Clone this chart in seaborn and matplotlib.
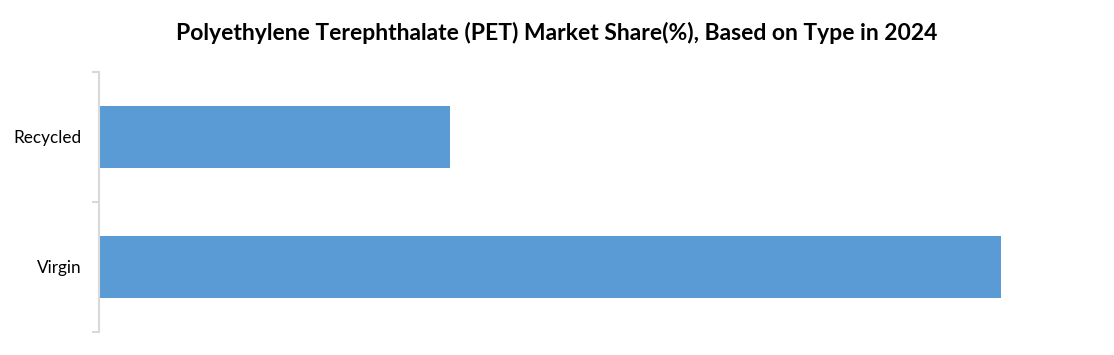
import matplotlib
matplotlib.use("Agg")
import matplotlib.pyplot as plt
import seaborn as sns
import pandas as pd
from matplotlib.ticker import FixedLocator

categories = ["Recycled", "Virgin"]
shares = [28, 72]

sns.set_theme(style="white")
plt.rcParams['font.family'] = ['Lato', 'DejaVu Sans']

df = pd.DataFrame({"Type": categories, "Share": shares})

fig = plt.figure(figsize=(11.14, 3.55), dpi=100)
ax = fig.add_axes([99/1114, 23/355, (1101-99)/1114, (332-72)/355])
sns.barplot(data=df, x="Share", y="Type", orient="h", color="#5b9bd5",
            width=0.48, saturation=1, linewidth=0, ax=ax)
ax.set_xlim(0, 80)
ax.set_ylim(1.5, -0.5)
ax.set_xlabel("")
ax.set_ylabel("")
ax.set_xticks([])
for s in ["top", "right", "bottom"]:
    ax.spines[s].set_visible(False)
ax.spines["left"].set_color("#d9d9d9")
ax.spines["left"].set_linewidth(1.5)
ax.tick_params(axis="y", which="major", length=0, labelsize=12.3, colors="#000000", pad=12.5)
ax.yaxis.set_minor_locator(FixedLocator([-0.5, 0.5, 1.5]))
ax.tick_params(axis="y", which="minor", length=5, width=1.5, color="#d9d9d9", left=True)

fig.suptitle("Polyethylene Terephthalate (PET) Market Share(%), Based on Type in 2024",
             x=0.5, y=1-33/355, va="center", fontsize=16.5, fontweight="bold", color="black")

fig.savefig("out.png", dpi=100)
